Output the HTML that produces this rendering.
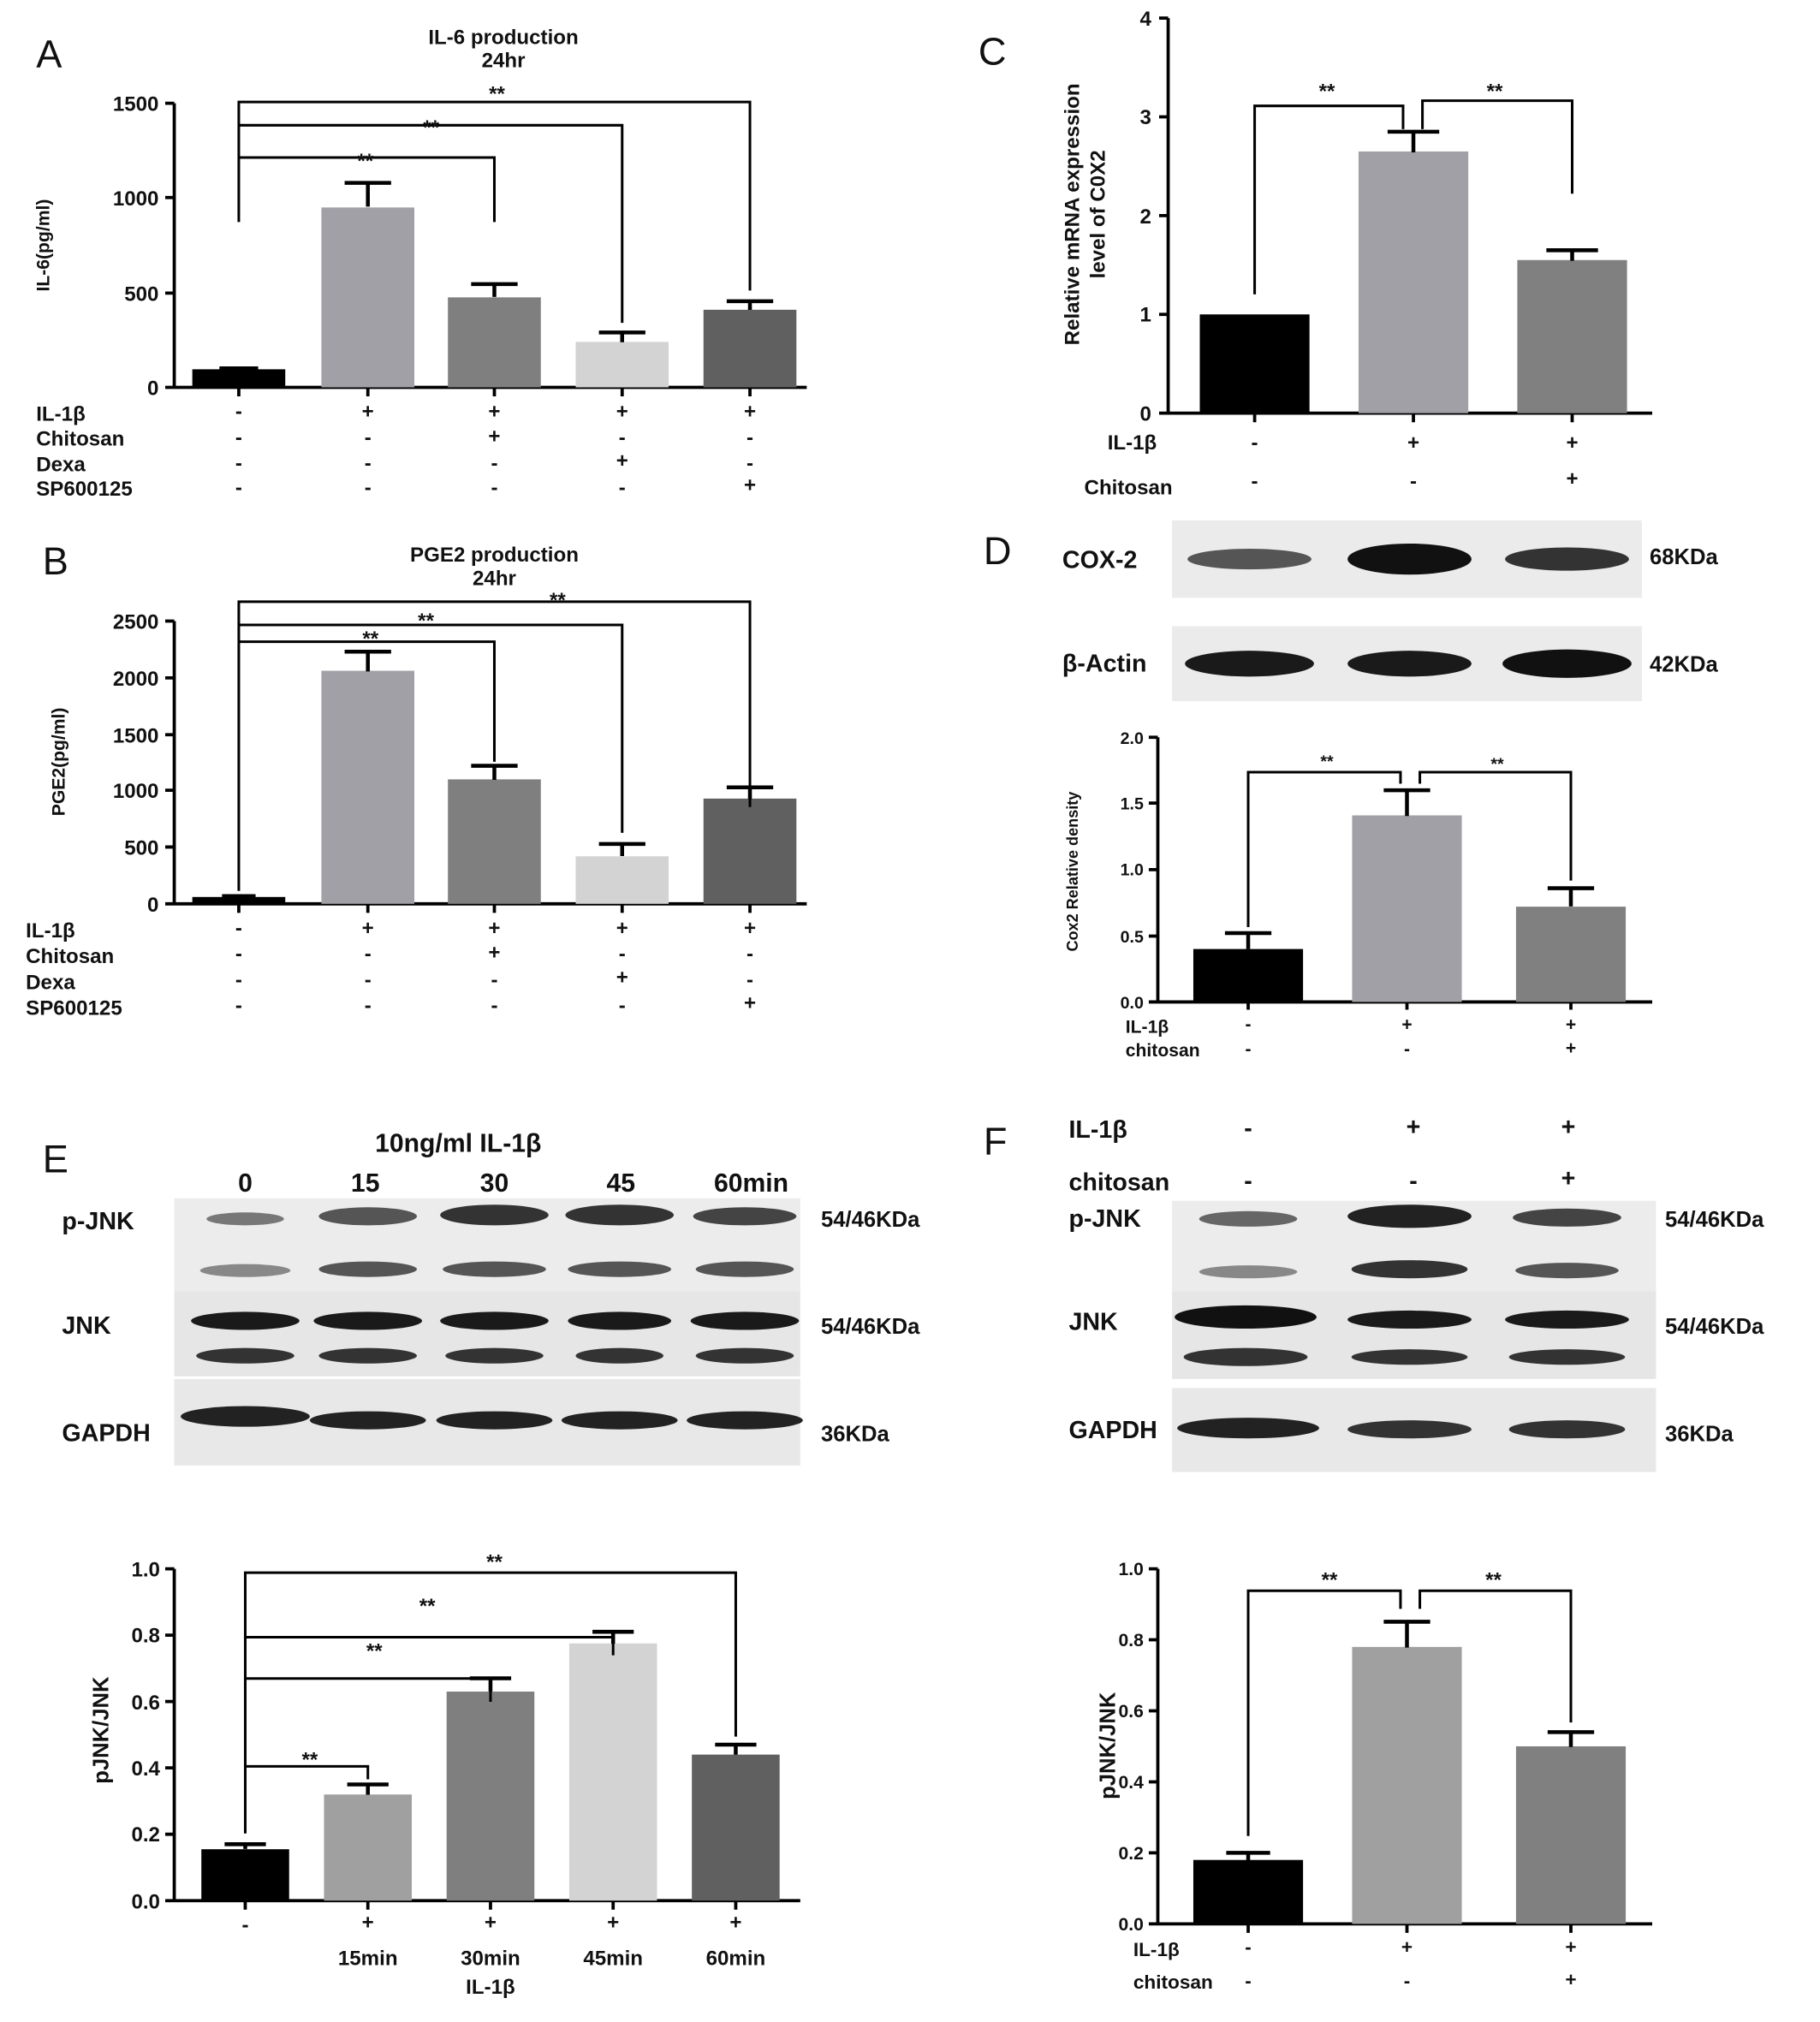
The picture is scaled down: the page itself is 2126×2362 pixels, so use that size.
<!DOCTYPE html>
<html><head><meta charset="utf-8"><style>
html,body{margin:0;padding:0;background:#fff;}
svg{display:block}
text{font-family:"Liberation Sans",Arial,sans-serif;font-weight:bold;fill:#111}
.ax{stroke:#000;stroke-width:2.5;fill:none}
.br{stroke:#000;stroke-width:2;fill:none}
.er{stroke:#000;stroke-width:3;fill:none}
.t{font-size:16px}
.s{font-size:17px}
.L{font-size:30px;font-weight:normal}
</style></head><body>
<svg width="2126" height="2362" viewBox="0 0 1410 1566" preserveAspectRatio="none" xmlns="http://www.w3.org/2000/svg">
<rect width="1410" height="1566" fill="#fff"/>

<!-- ===== A ===== -->
<text x="28" y="52" class="L">A</text>
<text x="390" y="34" class="t" text-anchor="middle">IL-6 production</text>
<text x="390" y="52" class="t" text-anchor="middle">24hr</text>
<text transform="translate(38,190) rotate(-90)" font-size="14" text-anchor="middle">IL-6(pg/ml)</text>
<path class="ax" d="M135 80V300H625M128 80H135M128 153H135M128 227H135M128 300H135M185 300V307M285 300V307M383 300V307M482 300V307M581 300V307"/>
<text x="123" y="86" class="t" text-anchor="end">1500</text>
<text x="123" y="159" class="t" text-anchor="end">1000</text>
<text x="123" y="233" class="t" text-anchor="end">500</text>
<text x="123" y="306" class="t" text-anchor="end">0</text>
<rect x="149" y="286" width="72" height="14" fill="#000"/>
<rect x="249" y="160.7" width="72" height="139.3" fill="#a0a0a6"/>
<rect x="347" y="230.3" width="72" height="69.7" fill="#7f7f7f"/>
<rect x="446" y="264.8" width="72" height="35.2" fill="#d3d3d3"/>
<rect x="545" y="239.9" width="72" height="60.1" fill="#606060"/>
<path class="er" d="M285 160V141.6M267 141.6H303M383 230V220M365 220H401M482 265V257.5M464 257.5H500M581 240V233.3M563 233.3H599M170 285.3H200"/>
<path class="br" d="M185 145V122H383V172M185 172V97H482V250M185 108V79H581V225"/>
<text x="283" y="130" class="t" text-anchor="middle">**</text>
<text x="334" y="104" class="t" text-anchor="middle">**</text>
<text x="385" y="78" class="t" text-anchor="middle">**</text>
<text x="28" y="326" class="t">IL-1β</text>
<text x="28" y="345" class="t">Chitosan</text>
<text x="28" y="365" class="t">Dexa</text>
<text x="28" y="384" class="t">SP600125</text>
<g class="t" text-anchor="middle">
<text x="185" y="324">-</text><text x="285" y="324">+</text><text x="383" y="324">+</text><text x="482" y="324">+</text><text x="581" y="324">+</text>
<text x="185" y="344">-</text><text x="285" y="344">-</text><text x="383" y="343">+</text><text x="482" y="344">-</text><text x="581" y="344">-</text>
<text x="185" y="364">-</text><text x="285" y="364">-</text><text x="383" y="364">-</text><text x="482" y="362">+</text><text x="581" y="364">-</text>
<text x="185" y="383">-</text><text x="285" y="383">-</text><text x="383" y="383">-</text><text x="482" y="383">-</text><text x="581" y="381">+</text>
</g>

<!-- ===== B ===== -->
<text x="33" y="445" class="L">B</text>
<text x="383" y="435" class="t" text-anchor="middle">PGE2 production</text>
<text x="383" y="453" class="t" text-anchor="middle">24hr</text>
<text transform="translate(50,590) rotate(-90)" font-size="14" text-anchor="middle">PGE2(pg/ml)</text>
<path class="ax" d="M135 481V700H625M128 481H135M128 525H135M128 569H135M128 612H135M128 656H135M128 700H135M185 700V707M285 700V707M383 700V707M482 700V707M581 700V707"/>
<text x="123" y="487" class="t" text-anchor="end">2500</text>
<text x="123" y="531" class="t" text-anchor="end">2000</text>
<text x="123" y="575" class="t" text-anchor="end">1500</text>
<text x="123" y="618" class="t" text-anchor="end">1000</text>
<text x="123" y="662" class="t" text-anchor="end">500</text>
<text x="123" y="706" class="t" text-anchor="end">0</text>
<rect x="149" y="694.7" width="72" height="5.3" fill="#000"/>
<rect x="249" y="519.5" width="72" height="180.5" fill="#a0a0a6"/>
<rect x="347" y="603.6" width="72" height="96.4" fill="#7f7f7f"/>
<rect x="446" y="663.2" width="72" height="36.8" fill="#d3d3d3"/>
<rect x="545" y="618.5" width="72" height="81.5" fill="#606060"/>
<path class="er" d="M285 520V504.7M267 504.7H303M383 604V593.1M365 593.1H401M482 663V653.6M464 653.6H500M581 619V609.8M563 609.8H599M172 694H198"/>
<path class="br" d="M185 690V497H383V590M185 690V484H482V645M185 500V466H581V625"/>
<text x="287" y="500" class="t" text-anchor="middle">**</text>
<text x="330" y="486" class="t" text-anchor="middle">**</text>
<text x="432" y="470" class="t" text-anchor="middle">**</text>
<text x="20" y="726" class="t">IL-1β</text>
<text x="20" y="746" class="t">Chitosan</text>
<text x="20" y="766" class="t">Dexa</text>
<text x="20" y="786" class="t">SP600125</text>
<g class="t" text-anchor="middle">
<text x="185" y="724">-</text><text x="285" y="724">+</text><text x="383" y="724">+</text><text x="482" y="724">+</text><text x="581" y="724">+</text>
<text x="185" y="744">-</text><text x="285" y="744">-</text><text x="383" y="743">+</text><text x="482" y="744">-</text><text x="581" y="744">-</text>
<text x="185" y="764">-</text><text x="285" y="764">-</text><text x="383" y="764">-</text><text x="482" y="762">+</text><text x="581" y="764">-</text>
<text x="185" y="784">-</text><text x="285" y="784">-</text><text x="383" y="784">-</text><text x="482" y="784">-</text><text x="581" y="782">+</text>
</g>

<!-- ===== C ===== -->
<text x="758" y="50" class="L">C</text>
<text transform="translate(836,166) rotate(-90)" class="t" text-anchor="middle">Relative mRNA expression</text>
<text transform="translate(856,166) rotate(-90)" class="t" text-anchor="middle">level of C0X2</text>
<path class="ax" d="M905 14V320H1280M898 14H905M898 90.5H905M898 167H905M898 243.5H905M898 320H905M972 320V327M1095 320V327M1218 320V327"/>
<text x="892" y="20" class="t" text-anchor="end">4</text>
<text x="892" y="96" class="t" text-anchor="end">3</text>
<text x="892" y="173" class="t" text-anchor="end">2</text>
<text x="892" y="249" class="t" text-anchor="end">1</text>
<text x="892" y="326" class="t" text-anchor="end">0</text>
<rect x="929.5" y="243.5" width="85" height="76.5" fill="#000"/>
<rect x="1052.5" y="117.3" width="85" height="202.7" fill="#a0a0a6"/>
<rect x="1175.5" y="201.4" width="85" height="118.6" fill="#808080"/>
<path class="er" d="M1095 118V102M1075 102H1115M1218 202V193.8M1198 193.8H1238"/>
<path class="br" d="M972 228V82H1087V100M1102 100V78H1218V150"/>
<text x="1028" y="76" class="t" text-anchor="middle">**</text>
<text x="1158" y="76" class="t" text-anchor="middle">**</text>
<text x="858" y="348" class="t">IL-1β</text>
<text x="840" y="383" class="t">Chitosan</text>
<g class="t" text-anchor="middle">
<text x="972" y="348">-</text><text x="1095" y="348">+</text><text x="1218" y="348">+</text>
<text x="972" y="378">-</text><text x="1095" y="378">-</text><text x="1218" y="376">+</text>
</g>

<!-- ===== D ===== -->
<text x="762" y="437" class="L">D</text>
<rect x="908" y="403" width="364" height="60" fill="#ebebeb"/>
<ellipse cx="968" cy="433" rx="48" ry="8" fill="#555"/>
<ellipse cx="1092" cy="433" rx="48" ry="12" fill="#111"/>
<ellipse cx="1214" cy="433" rx="48" ry="9" fill="#333"/>
<rect x="908" y="485" width="364" height="58" fill="#ebebeb"/>
<ellipse cx="968" cy="514" rx="50" ry="10" fill="#1a1a1a"/>
<ellipse cx="1092" cy="514" rx="48" ry="10" fill="#1a1a1a"/>
<ellipse cx="1214" cy="514" rx="50" ry="11" fill="#111"/>
<text x="823" y="440" font-size="19" font-weight="normal">COX-2</text>
<text x="1278" y="437" class="s">68KDa</text>
<text x="823" y="520" font-size="19" font-weight="normal">β-Actin</text>
<text x="1278" y="520" class="s">42KDa</text>
<text transform="translate(835,675) rotate(-90)" font-size="12" text-anchor="middle">Cox2 Relative density</text>
<path class="ax" d="M897 571V776H1280M890 571H897M890 622H897M890 673.5H897M890 725H897M890 776H897M967 776V782M1090 776V782M1217 776V782"/>
<text x="886" y="576" font-size="13" text-anchor="end">2.0</text>
<text x="886" y="627" font-size="13" text-anchor="end">1.5</text>
<text x="886" y="678" font-size="13" text-anchor="end">1.0</text>
<text x="886" y="730" font-size="13" text-anchor="end">0.5</text>
<text x="886" y="781" font-size="13" text-anchor="end">0.0</text>
<rect x="924.5" y="735" width="85" height="41" fill="#000"/>
<rect x="1047.5" y="631.5" width="85" height="144.5" fill="#a0a0a6"/>
<rect x="1174.5" y="702.2" width="85" height="73.8" fill="#808080"/>
<path class="er" d="M967 735V722.7M949 722.7H985M1090 632V612M1072 612H1108M1217 702V687.9M1199 687.9H1235"/>
<path class="br" d="M967 718V598H1085V607M1100 607V598H1217V682"/>
<text x="1028" y="594" font-size="13" text-anchor="middle">**</text>
<text x="1160" y="596" font-size="13" text-anchor="middle">**</text>
<text x="872" y="800" font-size="14">IL-1β</text>
<text x="872" y="818" font-size="14">chitosan</text>
<g font-size="14" text-anchor="middle">
<text x="967" y="798">-</text><text x="1090" y="798">+</text><text x="1217" y="798">+</text>
<text x="967" y="817">-</text><text x="1090" y="817">-</text><text x="1217" y="816">+</text>
</g>

<!-- ===== E ===== -->
<text x="33" y="908" class="L">E</text>
<text x="355" y="892" font-size="20" font-weight="normal" text-anchor="middle">10ng/ml IL-1β</text>
<g font-size="20" font-weight="normal" text-anchor="middle">
<text x="190" y="923">0</text><text x="283" y="923">15</text><text x="383" y="923">30</text><text x="481" y="923">45</text><text x="582" y="923">60min</text>
</g>
<rect x="135" y="928" width="485" height="72" fill="#ececec"/>
<rect x="135" y="1000" width="485" height="66" fill="#e6e6e6"/>
<rect x="135" y="1068" width="485" height="67" fill="#e8e8e8"/>
<g fill="#777"><ellipse cx="190" cy="944" rx="30" ry="5"/><ellipse cx="285" cy="942" rx="38" ry="7" fill="#555"/><ellipse cx="383" cy="941" rx="42" ry="8" fill="#333"/><ellipse cx="480" cy="941" rx="42" ry="8" fill="#333"/><ellipse cx="577" cy="942" rx="40" ry="7" fill="#444"/></g>
<g fill="#555"><ellipse cx="190" cy="984" rx="35" ry="5" fill="#888"/><ellipse cx="285" cy="983" rx="38" ry="6"/><ellipse cx="383" cy="983" rx="40" ry="6"/><ellipse cx="480" cy="983" rx="40" ry="6"/><ellipse cx="577" cy="983" rx="38" ry="6"/></g>
<g fill="#1a1a1a"><ellipse cx="190" cy="1023" rx="42" ry="7"/><ellipse cx="285" cy="1023" rx="42" ry="7"/><ellipse cx="383" cy="1023" rx="42" ry="7"/><ellipse cx="480" cy="1023" rx="40" ry="7"/><ellipse cx="577" cy="1023" rx="42" ry="7"/></g>
<g fill="#333"><ellipse cx="190" cy="1050" rx="38" ry="6"/><ellipse cx="285" cy="1050" rx="38" ry="6"/><ellipse cx="383" cy="1050" rx="38" ry="6"/><ellipse cx="480" cy="1050" rx="34" ry="6"/><ellipse cx="577" cy="1050" rx="38" ry="6"/></g>
<g fill="#222"><ellipse cx="190" cy="1097" rx="50" ry="8"/><ellipse cx="285" cy="1100" rx="45" ry="7"/><ellipse cx="383" cy="1100" rx="45" ry="7"/><ellipse cx="480" cy="1100" rx="45" ry="7"/><ellipse cx="577" cy="1100" rx="45" ry="7"/></g>
<text x="48" y="952" font-size="19" font-weight="normal">p-JNK</text>
<text x="48" y="1033" font-size="19" font-weight="normal">JNK</text>
<text x="48" y="1116" font-size="19" font-weight="normal">GAPDH</text>
<text x="636" y="950" class="s">54/46KDa</text>
<text x="636" y="1033" class="s">54/46KDa</text>
<text x="636" y="1116" class="s">36KDa</text>
<text transform="translate(84,1340) rotate(-90)" class="s" text-anchor="middle">pJNK/JNK</text>
<path class="ax" d="M135 1215V1472H620M128 1215H135M128 1266.4H135M128 1317.8H135M128 1369.2H135M128 1420.6H135M128 1472H135M190 1472V1479M285 1472V1479M380 1472V1479M475 1472V1479M570 1472V1479"/>
<text x="124" y="1221" class="t" text-anchor="end">1.0</text>
<text x="124" y="1272" class="t" text-anchor="end">0.8</text>
<text x="124" y="1324" class="t" text-anchor="end">0.6</text>
<text x="124" y="1375" class="t" text-anchor="end">0.4</text>
<text x="124" y="1426" class="t" text-anchor="end">0.2</text>
<text x="124" y="1478" class="t" text-anchor="end">0.0</text>
<rect x="156" y="1432.2" width="68" height="39.8" fill="#000"/>
<rect x="251" y="1389.8" width="68" height="82.2" fill="#a0a0a0"/>
<rect x="346" y="1310.1" width="68" height="161.9" fill="#7f7f7f"/>
<rect x="441" y="1272.8" width="68" height="199.2" fill="#d3d3d3"/>
<rect x="536" y="1358.9" width="68" height="113.1" fill="#606060"/>
<path class="er" d="M190 1432V1428.3M174 1428.3H206M285 1390V1382M269 1382H301M380 1310V1299.8M364 1299.8H396M475 1273V1263.8M459 1263.8H491M570 1359V1351.2M554 1351.2H586"/>
<path class="br" d="M190 1380V1368H285V1378M190 1420V1300H380V1318M190 1300V1268H475V1282M190 1268V1218H570V1345"/>
<text x="240" y="1368" class="t" text-anchor="middle">**</text>
<text x="290" y="1284" class="t" text-anchor="middle">**</text>
<text x="331" y="1249" class="t" text-anchor="middle">**</text>
<text x="383" y="1215" class="t" text-anchor="middle">**</text>
<g class="t" text-anchor="middle">
<text x="190" y="1496">-</text><text x="285" y="1494">+</text><text x="380" y="1494">+</text><text x="475" y="1494">+</text><text x="570" y="1494">+</text>
<text x="285" y="1522">15min</text><text x="380" y="1522">30min</text><text x="475" y="1522">45min</text><text x="570" y="1522">60min</text>
<text x="380" y="1544">IL-1β</text>
</g>

<!-- ===== F ===== -->
<text x="762" y="894" class="L">F</text>
<text x="828" y="881" font-size="19" font-weight="normal">IL-1β</text>
<text x="828" y="922" font-size="19" font-weight="normal">chitosan</text>
<g font-size="19" text-anchor="middle">
<text x="967" y="880">-</text><text x="1095" y="879">+</text><text x="1215" y="879">+</text>
<text x="967" y="921">-</text><text x="1095" y="921">-</text><text x="1215" y="919">+</text>
</g>
<rect x="908" y="930" width="375" height="70" fill="#ececec"/>
<rect x="908" y="1000" width="375" height="68" fill="#e6e6e6"/>
<rect x="908" y="1075" width="375" height="65" fill="#e8e8e8"/>
<ellipse cx="967" cy="944" rx="38" ry="6" fill="#666"/>
<ellipse cx="1092" cy="942" rx="48" ry="9" fill="#222"/>
<ellipse cx="1214" cy="943" rx="42" ry="7" fill="#444"/>
<ellipse cx="967" cy="985" rx="38" ry="5" fill="#888"/>
<ellipse cx="1092" cy="983" rx="45" ry="7" fill="#333"/>
<ellipse cx="1214" cy="984" rx="40" ry="6" fill="#555"/>
<ellipse cx="965" cy="1020" rx="55" ry="9" fill="#111"/>
<ellipse cx="1092" cy="1022" rx="48" ry="7" fill="#1a1a1a"/>
<ellipse cx="1214" cy="1022" rx="48" ry="7" fill="#1a1a1a"/>
<ellipse cx="965" cy="1051" rx="48" ry="7" fill="#333"/>
<ellipse cx="1092" cy="1051" rx="45" ry="6" fill="#333"/>
<ellipse cx="1214" cy="1051" rx="45" ry="6" fill="#333"/>
<ellipse cx="967" cy="1106" rx="55" ry="8" fill="#222"/>
<ellipse cx="1092" cy="1107" rx="48" ry="7" fill="#333"/>
<ellipse cx="1214" cy="1107" rx="45" ry="7" fill="#333"/>
<text x="828" y="950" font-size="19" font-weight="normal">p-JNK</text>
<text x="828" y="1030" font-size="19" font-weight="normal">JNK</text>
<text x="828" y="1114" font-size="19" font-weight="normal">GAPDH</text>
<text x="1290" y="950" class="s">54/46KDa</text>
<text x="1290" y="1033" class="s">54/46KDa</text>
<text x="1290" y="1116" class="s">36KDa</text>
<text transform="translate(864,1352) rotate(-90)" class="s" text-anchor="middle">pJNK/JNK</text>
<path class="ax" d="M897 1215V1490H1280M890 1215H897M890 1270H897M890 1325H897M890 1380H897M890 1435H897M890 1490H897M967 1490V1497M1090 1490V1497M1217 1490V1497"/>
<text x="886" y="1220" font-size="14" text-anchor="end">1.0</text>
<text x="886" y="1275" font-size="14" text-anchor="end">0.8</text>
<text x="886" y="1330" font-size="14" text-anchor="end">0.6</text>
<text x="886" y="1385" font-size="14" text-anchor="end">0.4</text>
<text x="886" y="1440" font-size="14" text-anchor="end">0.2</text>
<text x="886" y="1495" font-size="14" text-anchor="end">0.0</text>
<rect x="924.5" y="1440.5" width="85" height="49.5" fill="#000"/>
<rect x="1047.5" y="1275.5" width="85" height="214.5" fill="#a0a0a0"/>
<rect x="1174.5" y="1352.5" width="85" height="137.5" fill="#808080"/>
<path class="er" d="M967 1441V1435M950 1435H984M1090 1276V1256M1072 1256H1108M1217 1353V1341.5M1199 1341.5H1235"/>
<path class="br" d="M967 1422V1232H1085V1246M1100 1246V1232H1217V1334"/>
<text x="1030" y="1229" class="t" text-anchor="middle">**</text>
<text x="1157" y="1229" class="t" text-anchor="middle">**</text>
<text x="878" y="1515" font-size="15">IL-1β</text>
<text x="878" y="1540" font-size="15">chitosan</text>
<g font-size="15" text-anchor="middle">
<text x="967" y="1513">-</text><text x="1090" y="1513">+</text><text x="1217" y="1513">+</text>
<text x="967" y="1539">-</text><text x="1090" y="1539">-</text><text x="1217" y="1538">+</text>
</g>
</svg>
</body></html>
